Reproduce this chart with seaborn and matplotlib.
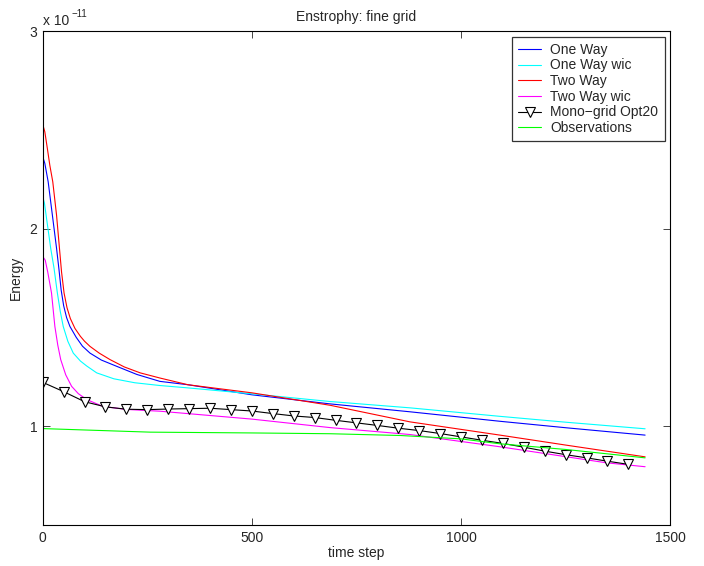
import numpy as np
import pandas as pd
import seaborn as sns
import matplotlib
matplotlib.use("Agg")
import matplotlib.pyplot as plt

# DATA (energy in units of 1e-11)
t_one_way = [0, 5, 13, 23, 33, 39, 44, 50, 57, 65, 80, 95, 113, 140, 177, 225, 280, 347,
             500, 687, 878, 1093, 1252, 1440]
e_one_way = [2.364, 2.33, 2.237, 2.069, 1.901, 1.79, 1.69, 1.61, 1.55, 1.505, 1.45, 1.405,
             1.37, 1.335, 1.303, 1.262, 1.227, 1.21, 1.159, 1.113, 1.073, 1.025, 0.992, 0.955]

t_one_way_wic = [0, 4, 8, 19, 27, 35, 42, 49, 60, 73, 90, 105, 129, 170, 220, 280, 347,
                 500, 687, 878, 1093, 1252, 1440]
e_one_way_wic = [2.162, 2.13, 2.069, 1.901, 1.80, 1.674, 1.58, 1.505, 1.43, 1.37, 1.33, 1.305,
                 1.27, 1.24, 1.22, 1.206, 1.194, 1.164, 1.125, 1.093, 1.05, 1.02, 0.987]

t_two_way = [0, 5, 11, 17, 24, 33, 40, 45, 51, 58, 66, 77, 90, 100, 113, 135, 161, 195, 233,
             280, 347, 500, 687, 878, 1093, 1252, 1440]
e_two_way = [2.527, 2.49, 2.406, 2.32, 2.237, 2.069, 1.90, 1.78, 1.674, 1.60, 1.545, 1.495,
             1.455, 1.43, 1.404, 1.37, 1.337, 1.30, 1.27, 1.244, 1.21, 1.169, 1.106, 1.022,
             0.955, 0.904, 0.845]

t_two_way_wic = [0, 6, 12, 21, 29, 36, 43, 55, 69, 85, 105, 144, 200, 280, 500, 687, 878,
                 1093, 1347, 1440]
e_two_way_wic = [1.859, 1.84, 1.78, 1.674, 1.505, 1.41, 1.337, 1.26, 1.202, 1.165, 1.135,
                 1.10, 1.085, 1.076, 1.036, 0.993, 0.958, 0.896, 0.815, 0.795]

t_mono = list(range(0, 1401, 50))
e_mono = [1.222, 1.175, 1.124, 1.098, 1.086, 1.084, 1.087, 1.089, 1.091, 1.084,
          1.077, 1.064, 1.052, 1.044, 1.030, 1.017, 1.004, 0.990, 0.978, 0.963,
          0.946, 0.929, 0.913, 0.894, 0.874, 0.856, 0.840, 0.823, 0.807]

t_obs = [0, 257, 500, 687, 855, 1000, 1093, 1252, 1440]
e_obs = [0.988, 0.97, 0.966, 0.962, 0.953, 0.936, 0.911, 0.882, 0.840]

sns.set_style("ticks")
plt.rcParams['font.family'] = ['Liberation Sans', 'DejaVu Sans']
plt.rcParams['font.size'] = 10

fig = plt.figure(figsize=(7.04, 5.66), dpi=100)
ax = fig.add_axes([0.0607, 0.0724, 0.8913, 0.8728])

series = [
    ("One Way", t_one_way, e_one_way, "#0000ff"),
    ("One Way wic", t_one_way_wic, e_one_way_wic, "#00ffff"),
    ("Two Way", t_two_way, e_two_way, "#ff0000"),
    ("Two Way wic", t_two_way_wic, e_two_way_wic, "#ff00ff"),
]
for name, t, e, c in series:
    df = pd.DataFrame({"t": t, "e": e})
    sns.lineplot(data=df, x="t", y="e", color=c, lw=0.8, label=name, ax=ax, sort=False)

df_mono = pd.DataFrame({"t": t_mono, "e": e_mono})
sns.lineplot(data=df_mono, x="t", y="e", color="black", lw=0.8, marker="v", markersize=6.5,
             markerfacecolor="white", markeredgecolor="black", markeredgewidth=0.8,
             label="Mono\u2212grid Opt20", ax=ax, sort=False)

df_obs = pd.DataFrame({"t": t_obs, "e": e_obs})
sns.lineplot(data=df_obs, x="t", y="e", color="#00ff00", lw=0.8, label="Observations", ax=ax, sort=False)

ax.set_xlim(0, 1500)
ax.set_ylim(0.5, 3)
ax.set_xticks([0, 500, 1000, 1500])
ax.set_yticks([1, 2, 3])
ax.set_yticklabels(["1", "2", "3"])
ax.tick_params(direction="in", length=5, width=0.6, top=True, right=True, labelsize=10, pad=4)
for s in ax.spines.values():
    s.set_linewidth(0.8)
    s.set_color("black")

ax.set_title("Enstrophy: fine grid", fontsize=10, pad=7)
ax.set_xlabel("time step", fontsize=10, labelpad=1)
ax.set_ylabel("Energy", fontsize=10, labelpad=4.5)

# MATLAB-style exponent label
ax.annotate("x 10", xy=(0, 1), xycoords="axes fraction", xytext=(0, 4.3),
            textcoords="offset points", fontsize=10, ha="left", va="baseline")
ax.annotate("\u221211", xy=(0, 1), xycoords="axes fraction", xytext=(21, 10),
            textcoords="offset points", fontsize=7, ha="left", va="baseline")

leg = ax.legend(loc="upper right", fontsize=10, frameon=True, fancybox=False, edgecolor="black",
                handlelength=1.7, handletextpad=0.65, borderaxespad=0.4, labelspacing=0.12,
                borderpad=0.45)
leg.get_frame().set_linewidth(0.9)

fig.savefig("out.png", dpi=100)
